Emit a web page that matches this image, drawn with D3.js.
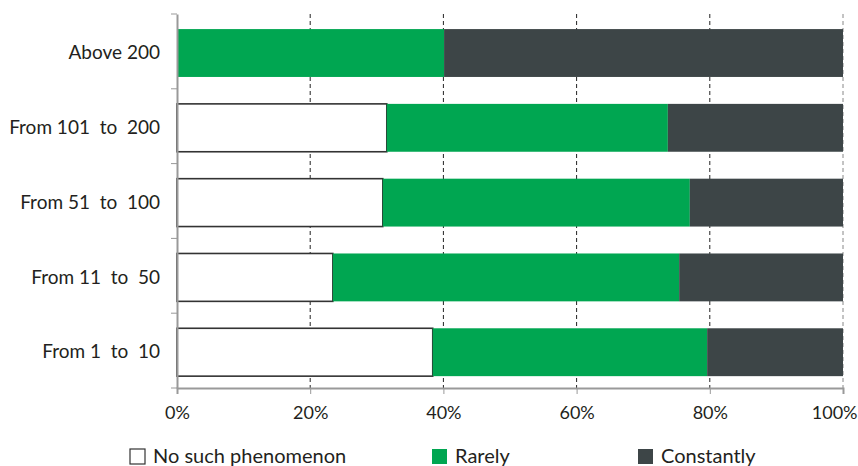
<!DOCTYPE html>
<html><head><meta charset="utf-8">
<script src="https://cdn.jsdelivr.net/npm/d3@7"></script>
<style>body{margin:0;background:#fff}svg{display:block}text{font-family:Lato,"Open Sans",sans-serif;fill:#231f20}</style>
</head><body><svg id="c" width="858" height="466"></svg>
<script>
const categories = ["Above 200","From 101  to  200","From 51  to  100","From 11  to  50","From 1  to  10"];
const seriesNames = ["No such phenomenon","Rarely","Constantly"];
const noSuch = [0, 31.5, 30.9, 23.4, 38.4];
const rarely = [40.1, 42.2, 46.1, 52.0, 41.2];
const constantly = [59.9, 26.3, 23.0, 24.6, 20.4];
const xTicks = [0,20,40,60,80,100];
const colors = ["#ffffff","#00a651","#3d4547"];

const svg = d3.select("#c");
const m = {l:177, r:843, t:14, b:388};
const x = d3.scaleLinear().domain([0,100]).range([m.l,m.r]);
const y = d3.scaleBand().domain(categories).range([m.t,m.b]).paddingInner(0.36).paddingOuter(0.18).align(0.56);
const rows = categories.map((c,i)=>({cat:c, vals:[noSuch[i],rarely[i],constantly[i]]}));

// gridlines
svg.append("g").selectAll("line").data(xTicks.filter(d=>d>0)).join("line")
  .attr("x1",d=>x(d)).attr("x2",d=>x(d)).attr("y1",m.t).attr("y2",m.b)
  .attr("stroke",d=>d===100?"#888":"#222").attr("stroke-width",1).attr("stroke-dasharray","4,3");

// bars
rows.forEach(r=>{
  let acc=0;
  r.vals.forEach((v,k)=>{
    if(v>0){
      const rect = svg.append("rect").attr("x",x(acc)).attr("width",x(acc+v)-x(acc))
        .attr("y",y(r.cat)).attr("height",y.bandwidth()).attr("fill",colors[k]);
      if(k===0) rect.attr("stroke","#333").attr("stroke-width",1.6);
    }
    acc+=v;
  });
});

// axes
const xAxis = svg.append("g").attr("transform",`translate(0,${m.b})`)
  .call(d3.axisBottom(x).tickValues(xTicks).tickFormat(d=>d+"%").tickSize(6).tickPadding(12));
xAxis.select(".domain").attr("stroke","#999").attr("stroke-width",2);
xAxis.selectAll(".tick line").attr("stroke","#999");
xAxis.selectAll("text").style("font-size","18px").attr("fill","#231f20")
  .attr("text-anchor",d=>d===100?"end":"middle").attr("dx",d=>d===100?"14":"0");

const yAxis = svg.append("g").attr("transform",`translate(${m.l},0)`)
  .call(d3.axisLeft(y).tickSize(0).tickPadding(17));
yAxis.select(".domain").attr("stroke","#999").attr("stroke-width",2);
yAxis.selectAll("text").style("font-size","19px").attr("fill","#231f20").style("white-space","pre");
// band boundary ticks
const bounds = d3.range(categories.length+1).map(i=>m.t+i*(m.b-m.t)/categories.length);
svg.append("g").selectAll("line").data(bounds).join("line")
  .attr("x1",m.l-6).attr("x2",m.l).attr("y1",d=>d).attr("y2",d=>d).attr("stroke","#999");

// legend
const lx=[130,432,638];
const lg = svg.append("g").selectAll("g").data(seriesNames).join("g")
  .attr("transform",(d,i)=>`translate(${lx[i]},449)`);
lg.append("rect").attr("width",15).attr("height",15).attr("fill",(d,i)=>colors[i])
  .attr("stroke",(d,i)=>i===0?"#333":"none").attr("stroke-width",1.2);
lg.append("text").attr("x",23).attr("y",14).style("font-size","20px").text(d=>d);
</script></body></html>
